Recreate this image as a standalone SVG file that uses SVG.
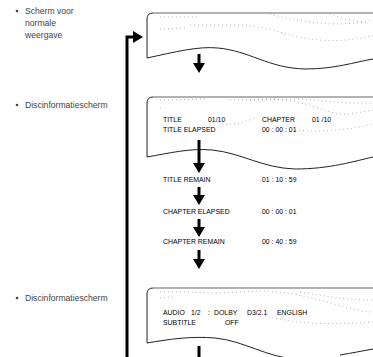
<svg xmlns="http://www.w3.org/2000/svg" width="373" height="357" viewBox="0 0 373 357">
  <defs>
    <style>
      .label { font-family: "Liberation Sans", Arial, sans-serif; font-size: 8.6px; fill: #444; }
      .scr { font-family: "Liberation Sans", Arial, sans-serif; font-size: 6.9px; fill: #000; }
      .frame { fill: none; stroke: #222; stroke-width: 1; }
      .topline { fill: none; stroke: #666; stroke-width: 1.2; }
      .dots { fill: none; stroke: #888; stroke-width: 0.8; stroke-dasharray: 0.8 3.2; }
      .flow { fill: none; stroke: #000; stroke-width: 3; }
    </style>
    <!-- filled arrowhead, drawn pointing along +x so orient="auto" follows the line -->
    <marker id="head" markerUnits="userSpaceOnUse" markerWidth="10" markerHeight="12" refX="0" refY="6" orient="auto" viewBox="0 0 10 12">
      <path d="M0,0 L10,6 L0,12 Z" fill="#000"/>
    </marker>
  </defs>

  <!-- left-hand captions -->
  <g id="caption-normal">
    <circle cx="17" cy="11" r="1.3" fill="#444"/>
    <text class="label" x="25" y="14">Scherm voor</text>
    <text class="label" x="25" y="26">normale</text>
    <text class="label" x="25" y="38">weergave</text>
  </g>
  <g id="caption-disc1">
    <circle cx="17" cy="105" r="1.3" fill="#444"/>
    <text class="label" x="25" y="108">Discinformatiescherm</text>
  </g>
  <g id="caption-disc2">
    <circle cx="17" cy="298" r="1.3" fill="#444"/>
    <text class="label" x="25" y="301">Discinformatiescherm</text>
  </g>

  <!-- screen 1: normal display -->
  <g id="screen-normal">
    <path class="frame" d="M147,58 L147,19 Q147,13 153,13"/>
    <path class="topline" d="M153,13 L373,13"/>
    <path class="frame" d="M147,58 C175,52 198,46 218,48 C250,51 268,68 305,69 C335,69 355,62 373,59"/>
    <path class="dots" d="M160,17 L200,17"/>
    <path class="dots" d="M160,29 L185,28"/>
    <path class="dots" d="M190,25 L240,25 C270,26 290,38 320,40 C345,42 360,38 373,36"/>
    <path class="dots" d="M270,14 C290,20 310,23 335,24 C355,24 365,22 373,20"/>
    <path class="dots" d="M330,14 C340,18 352,21 362,22"/>
  </g>

  <!-- screen 2: disc information, title/chapter -->
  <g id="screen-disc1">
    <path class="frame" d="M147,157 L147,103 Q147,97 153,97"/>
    <path class="topline" d="M153,97 L373,97"/>
    <path class="frame" d="M147,157 C170,153 190,148 212,150 C242,153 262,168 295,169 C330,169 355,161 373,157"/>
    <path class="dots" d="M160,100 L205,99"/>
    <path class="dots" d="M160,108 L162,108"/>
    <path class="dots" d="M222,124 C235,125 245,122 255,118"/>
    <path class="dots" d="M230,100 L270,99 C290,99 310,105 330,112 C345,117 360,112 373,110"/>
    <path class="dots" d="M250,100 L300,99 C320,100 340,104 373,103"/>
    <path class="dots" d="M295,130 C320,132 345,131 373,124"/>
    <text class="scr" x="163" y="122">TITLE</text>
    <text class="scr" x="208" y="122">01/10</text>
    <text class="scr" x="262" y="122">CHAPTER</text>
    <text class="scr" x="312" y="122">01 /10</text>
    <text class="scr" x="163" y="132">TITLE ELAPSED</text>
    <text class="scr" x="262" y="132">00 : 00 : 01</text>
  </g>

  <g id="row-title-remain">
    <text class="scr" x="163" y="182">TITLE REMAIN</text>
    <text class="scr" x="262" y="182">01 : 10 : 59</text>
  </g>
  <g id="row-chapter-elapsed">
    <text class="scr" x="163" y="214">CHAPTER ELAPSED</text>
    <text class="scr" x="262" y="214">00 : 00 : 01</text>
  </g>
  <g id="row-chapter-remain">
    <text class="scr" x="163" y="244">CHAPTER REMAIN</text>
    <text class="scr" x="262" y="244">00 : 40 : 59</text>
  </g>

  <!-- screen 3: disc information, audio/subtitle -->
  <g id="screen-disc2">
    <path class="frame" d="M147,343 L147,294 Q147,288 153,288"/>
    <path class="topline" d="M153,288 L373,288"/>
    <path class="frame" d="M147,343 C170,339 192,336 215,338 C245,341 265,357 300,360"/>
    <path class="frame" d="M340,355 C352,353 362,351 373,349"/>
    <path class="dots" d="M160,292 C180,291 200,293 222,293 L260,291 C290,291 320,300 345,307 C357,310 365,312 373,312"/>
    <path class="dots" d="M160,298 L175,297"/>
    <path class="dots" d="M300,292 C325,296 345,300 373,300"/>
    <path class="dots" d="M265,316 C290,322 320,326 373,322"/>
    <text class="scr" y="315"><tspan x="163">AUDIO</tspan><tspan x="191">1/2</tspan><tspan x="208">:</tspan><tspan x="214">DOLBY</tspan><tspan x="247">D3/2.1</tspan><tspan x="277">ENGLISH</tspan></text>
    <text class="scr" x="163" y="325">SUBTITLE</text>
    <text class="scr" x="225" y="325">OFF</text>
  </g>

  <!-- flow connectors -->
  <g id="connectors">
    <line class="flow" x1="199" y1="54" x2="199" y2="63" marker-end="url(#head)"/>
    <line class="flow" x1="199" y1="140" x2="199" y2="163" marker-end="url(#head)"/>
    <line class="flow" x1="199" y1="187" x2="199" y2="195" marker-end="url(#head)"/>
    <line class="flow" x1="199" y1="219" x2="199" y2="227" marker-end="url(#head)"/>
    <line class="flow" x1="199" y1="250" x2="199" y2="259" marker-end="url(#head)"/>
    <line class="flow" x1="199" y1="346" x2="199" y2="357"/>
    <path class="flow" d="M127,357 L127,37 L133,37" marker-end="url(#head)"/>
  </g>
</svg>
